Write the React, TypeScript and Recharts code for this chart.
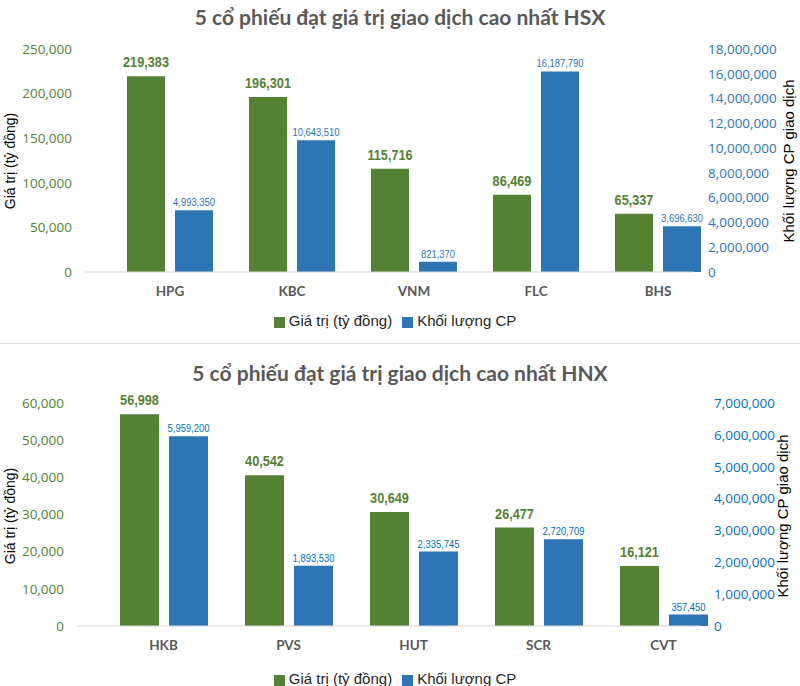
import { Bar, BarChart, LabelList, Legend, XAxis, YAxis } from 'recharts';

const hsxCodes = ['HPG', 'KBC', 'VNM', 'FLC', 'BHS'];
const hsxValue = [219383, 196301, 115716, 86469, 65337];
const hsxVolume = [4993350, 10643510, 821370, 16187790, 3696630];
const hsxValueTicks = [0, 50000, 100000, 150000, 200000, 250000];
const hsxVolumeTicks = [0, 2000000, 4000000, 6000000, 8000000, 10000000, 12000000, 14000000, 16000000, 18000000];

const hnxCodes = ['HKB', 'PVS', 'HUT', 'SCR', 'CVT'];
const hnxValue = [56998, 40542, 30649, 26477, 16121];
const hnxVolume = [5959200, 1893530, 2335745, 2720709, 357450];
const hnxValueTicks = [0, 10000, 20000, 30000, 40000, 50000, 60000];
const hnxVolumeTicks = [0, 1000000, 2000000, 3000000, 4000000, 5000000, 6000000, 7000000];

const GREEN = '#548235';
const BLUE = '#2E75B6';
const fmt = (v: number) => Number(v).toLocaleString('en-US');
const tickFont = "'Open Sans', sans-serif";
const arial = "'Liberation Sans', sans-serif";

// Excel uses Arial Narrow for the data labels; squeeze Liberation Sans to get close
const narrowLabel = (color: string, size: number, bold: boolean, gap: number) => (props: any) => {
  const { x, y, width, value } = props;
  const cx = Number(x) + Number(width) / 2;
  const ty = Number(y) - gap;
  return (
    <text
      transform={`translate(${cx},${ty}) scale(0.82,1)`}
      textAnchor="middle"
      fill={color}
      fontSize={size}
      fontWeight={bold ? 700 : 400}
      fontFamily={arial}
    >
      {fmt(value)}
    </text>
  );
};

type PanelProps = {
  title: string;
  codes: string[];
  values: number[];
  volumes: number[];
  valueTicks: number[];
  volumeTicks: number[];
  blue: string;
  top: number;
  height: number;
  titleY: number;
  plotTop: number;
  plotBottom: number;
  legendY: number;
  left: number;
  right: number;
  padLeft: number;
  padRight: number;
  barSize: number;
  rightTitleX: number;
  border?: boolean;
};

function Panel(p: PanelProps) {
  const data = p.codes.map((code, i) => ({ code, value: p.values[i], volume: p.volumes[i] }));
  const H = p.height;
  const legendH = 24;
  const legendTop = p.legendY - 8;
  const bottom = H - legendTop - legendH;
  const xAxisH = legendTop - p.plotBottom;
  const midY = (p.plotTop + p.plotBottom) / 2;
  return (
    <div
      style={{
        position: 'absolute',
        left: 0,
        top: p.top,
        width: 800,
        height: H,
        borderTop: p.border ? '1px solid #d9d9d9' : undefined,
        boxSizing: 'border-box',
      }}
    >
      <div
        style={{
          position: 'absolute',
          left: 0,
          width: 800,
          top: p.titleY - 14,
          height: 28,
          lineHeight: '28px',
          textAlign: 'center',
          fontFamily: "'Lato', sans-serif",
          fontWeight: 700,
          fontSize: 21,
          color: '#595959',
        }}
      >
        {p.title}
      </div>
      <div style={{ position: 'absolute', left: 0, top: p.border ? -1 : 0 }}>
        <BarChart
          width={800}
          height={H}
          data={data}
          barSize={p.barSize}
          barGap={10}
          margin={{ top: p.plotTop, right: 0, left: 0, bottom }}
        >
          <XAxis
            dataKey="code"
            height={xAxisH}
            padding={{ left: p.padLeft, right: p.padRight }}
            axisLine={{ stroke: '#d9d9d9' }}
            tickLine={false}
            tickSize={0}
            tickMargin={14}
            tick={{ fill: '#595959', fontSize: 13.5, fontWeight: 700, fontFamily: "'Lato', sans-serif" }}
          />
          <YAxis
            yAxisId="value"
            orientation="left"
            width={p.left}
            domain={[0, p.valueTicks[p.valueTicks.length - 1]]}
            ticks={p.valueTicks}
            tickFormatter={fmt}
            axisLine={false}
            tickLine={false}
            tickSize={0}
            tickMargin={13}
            tick={{ fill: GREEN, fontSize: 13.5, fontFamily: tickFont }}
          />
          <YAxis
            yAxisId="volume"
            orientation="right"
            width={800 - p.right}
            domain={[0, p.volumeTicks[p.volumeTicks.length - 1]]}
            ticks={p.volumeTicks}
            tickFormatter={fmt}
            axisLine={false}
            tickLine={false}
            tickSize={0}
            tickMargin={14}
            tick={{ fill: p.blue, fontSize: 13.5, fontFamily: tickFont }}
          />
          <Legend
            height={legendH}
            verticalAlign="bottom"
            iconType="square"
            iconSize={11}
            wrapperStyle={{ fontFamily: arial, fontSize: 15 }}
            formatter={(v: string) => <span style={{ color: '#262626' }}>{v}</span>}
          />
          <Bar yAxisId="value" dataKey="value" name="Giá trị (tỷ đồng)" fill={GREEN} isAnimationActive={false}>
            <LabelList dataKey="value" content={narrowLabel(GREEN, 15.5, true, 9)} />
          </Bar>
          <Bar yAxisId="volume" dataKey="volume" name="Khối lượng CP" fill={BLUE} isAnimationActive={false}>
            <LabelList dataKey="volume" content={narrowLabel(p.blue, 11.5, false, 4)} />
          </Bar>
        </BarChart>
      </div>
      <div
        style={{
          position: 'absolute',
          left: 10,
          top: midY,
          transform: 'translate(-50%, -50%) rotate(-90deg)',
          whiteSpace: 'nowrap',
          fontFamily: arial,
          fontSize: 14,
          color: '#000',
        }}
      >
        Giá trị (tỷ đồng)
      </div>
      <div
        style={{
          position: 'absolute',
          left: p.rightTitleX,
          top: midY,
          transform: 'translate(-50%, -50%) rotate(-90deg)',
          whiteSpace: 'nowrap',
          fontFamily: arial,
          fontSize: 15,
          color: '#000',
        }}
      >
        Khối lượng CP giao dịch
      </div>
    </div>
  );
}

export default function App() {
  return (
    <div
      style={{
        position: 'absolute',
        left: 0,
        top: 0,
        width: 800,
        height: 686,
        overflow: 'hidden',
        background: '#fff',
      }}
    >
      <Panel
        title="5 cổ phiếu đạt giá trị giao dịch cao nhất HSX"
        codes={hsxCodes}
        values={hsxValue}
        volumes={hsxVolume}
        valueTicks={hsxValueTicks}
        volumeTicks={hsxVolumeTicks}
        blue={BLUE}
        top={0}
        height={343}
        titleY={17}
        plotTop={49}
        plotBottom={272}
        legendY={320}
        left={85}
        right={694}
        padLeft={24}
        padRight={-25}
        barSize={38}
        rightTitleX={788}
      />
      <Panel
        title="5 cổ phiếu đạt giá trị giao dịch cao nhất HNX"
        codes={hnxCodes}
        values={hnxValue}
        volumes={hnxVolume}
        valueTicks={hnxValueTicks}
        volumeTicks={hnxVolumeTicks}
        blue="#0070C0"
        top={343}
        height={370}
        titleY={29}
        plotTop={60}
        plotBottom={283}
        legendY={335}
        left={77}
        right={700}
        padLeft={24}
        padRight={-26}
        barSize={39}
        rightTitleX={782}
        border
      />
    </div>
  );
}
